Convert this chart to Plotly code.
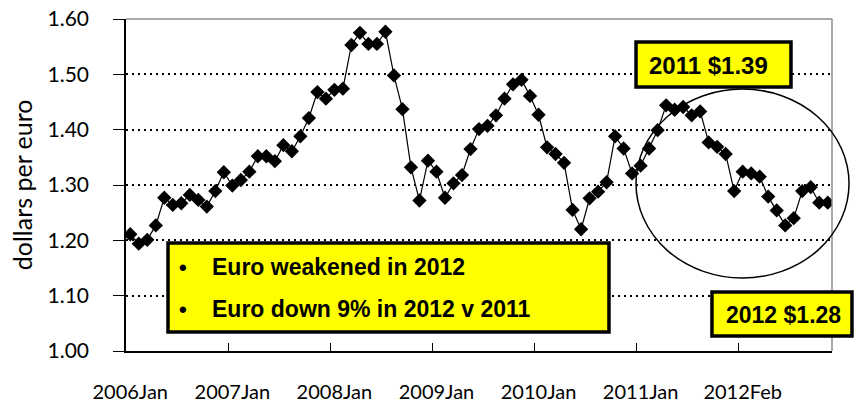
import plotly.graph_objects as go

# Monthly dollars-per-euro values (Jan 2006 onward, 83 points)
usd_per_eur = [
    1.211, 1.194, 1.201, 1.227, 1.277, 1.264, 1.267, 1.282, 1.273, 1.261, 1.289, 1.323,
    1.299, 1.309, 1.324, 1.352, 1.352, 1.343, 1.372, 1.361, 1.388, 1.421, 1.468, 1.456,
    1.472, 1.474, 1.553, 1.575, 1.555, 1.555, 1.577, 1.498, 1.437, 1.332, 1.272, 1.344,
    1.324, 1.277, 1.303, 1.318, 1.365, 1.401, 1.407, 1.426, 1.456, 1.482, 1.490, 1.461,
    1.427, 1.368, 1.356, 1.340, 1.255, 1.220, 1.276, 1.288, 1.305, 1.388, 1.366, 1.321,
    1.335, 1.366, 1.399, 1.444, 1.436, 1.441, 1.426, 1.433, 1.377, 1.369, 1.356, 1.289,
    1.324, 1.321, 1.315, 1.279, 1.254, 1.227, 1.240, 1.289, 1.296, 1.268, 1.268,
]
x_index = list(range(len(usd_per_eur)))

tick_positions = [0, 12, 24, 36, 48, 60, 72]
tick_labels = ["2006Jan", "2007Jan", "2008Jan", "2009Jan", "2010Jan", "2011Jan", "2012Feb"]
boundary_ticks = [11.5, 23.5, 35.5, 47.5, 59.5, 71.5]

y_ticks = [1.00, 1.10, 1.20, 1.30, 1.40, 1.50, 1.60]
y_tick_labels = ["1.00", "1.10", "1.20", "1.30", "1.40", "1.50", "1.60"]

label_2011 = "2011 $1.39"
label_2012 = "2012 $1.28"
bullets = ["Euro weakened in 2012", "Euro down 9% in 2012 v 2011"]
y_title = "dollars per euro"

AX_FONT = "Lato, 'Gill Sans', sans-serif"
BOX_FONT = "Arial, 'Liberation Sans', sans-serif"

fig = go.Figure()
fig.add_trace(go.Scatter(
    x=x_index, y=usd_per_eur, mode="lines+markers",
    line=dict(color="black", width=1.2),
    marker=dict(symbol="diamond", size=11, color="black"),
    showlegend=False, hoverinfo="y",
))

fig.update_layout(
    width=854, height=417, autosize=False,
    margin=dict(l=126, r=22, t=19, b=66, pad=0),
    paper_bgcolor="white", plot_bgcolor="white",
    xaxis=dict(
        automargin=False,
        range=[-0.5, 82.5], tickvals=tick_positions, ticktext=tick_labels,
        ticks="", showgrid=False, zeroline=False,
        showline=True, linecolor="black", linewidth=1.5,
        tickfont=dict(family=AX_FONT, size=20, color="black"),
        ticklabelstandoff=22, ticklabeloverflow="allow",
        minor=dict(tickvals=boundary_ticks, ticks="inside", ticklen=8,
                   tickcolor="black", tickwidth=1, showgrid=False),
    ),
    yaxis=dict(
        automargin=False,
        range=[1.0, 1.6], tickvals=y_ticks, ticktext=y_tick_labels,
        ticks="outside", ticklen=11, tickcolor="black", tickwidth=1,
        showgrid=True, gridcolor="black", gridwidth=2, griddash="2px,4px",
        zeroline=False, showline=True, linecolor="black", linewidth=1.5,
        tickfont=dict(family=AX_FONT, size=21, color="black"),
        ticklabelstandoff=20, ticklabeloverflow="allow",
    ),
)

# plot frame (top/right in grey)
fig.add_shape(type="line", xref="paper", yref="paper", x0=0, x1=1, y0=1, y1=1,
              line=dict(color="#8c8c8c", width=1.5), layer="above")
fig.add_shape(type="line", xref="paper", yref="paper", x0=1, x1=1, y0=0, y1=1,
              line=dict(color="#8c8c8c", width=1.5), layer="above")

# ellipse highlighting 2011-2012
fig.add_shape(type="circle", xref="paper", yref="paper",
              x0=0.7224, x1=1.0241, y0=0.2199, y1=0.789,
              line=dict(color="black", width=1.5), layer="above")

# yellow boxes
for (x0, x1, y0, y1) in [(0.7224, 0.9419, 0.7952, 0.9307),
                         (0.830, 1.0283, 0.0452, 0.1777),
                         (0.0595, 0.6841, 0.0572, 0.3253)]:
    fig.add_shape(type="rect", xref="paper", yref="paper",
                  x0=x0, x1=x1, y0=y0, y1=y1,
                  fillcolor="#ffff00", line=dict(color="black", width=3.5),
                  layer="above")

fig.add_annotation(xref="paper", yref="paper", x=0.8255, y=0.8614, text=f"<b>{label_2011}</b>",
                   xanchor="center", yanchor="middle",
                   showarrow=False, font=dict(family=BOX_FONT, size=24, color="black"))
fig.add_annotation(xref="paper", yref="paper", x=0.931, y=0.1093, text=f"<b>{label_2012}</b>",
                   xanchor="center", yanchor="middle",
                   showarrow=False, font=dict(family=BOX_FONT, size=23, color="black"))

for ypos, txt in zip([0.253, 0.1265], bullets):
    fig.add_annotation(xref="paper", yref="paper", x=0.0807, y=ypos, text="<b>•</b>",
                       xanchor="center", yanchor="middle",
                       showarrow=False, font=dict(family=BOX_FONT, size=22, color="black"))
    fig.add_annotation(xref="paper", yref="paper", x=0.119, y=ypos, text=f"<b>{txt}</b>",
                       xanchor="left", yanchor="middle", showarrow=False,
                       font=dict(family=BOX_FONT, size=23, color="black"))

fig.add_annotation(xref="paper", yref="paper", x=-0.147, y=0.5, text=y_title,
                   xanchor="center", yanchor="middle",
                   textangle=-90, showarrow=False,
                   font=dict(family=AX_FONT, size=25, color="black"))

# remove the default 8px page margin so the 854x417 figure fills the window exactly
fig.write_html("out.html",
               config={"displayModeBar": False},
               post_script="document.body.style.margin='0';document.body.style.overflow='hidden';")
